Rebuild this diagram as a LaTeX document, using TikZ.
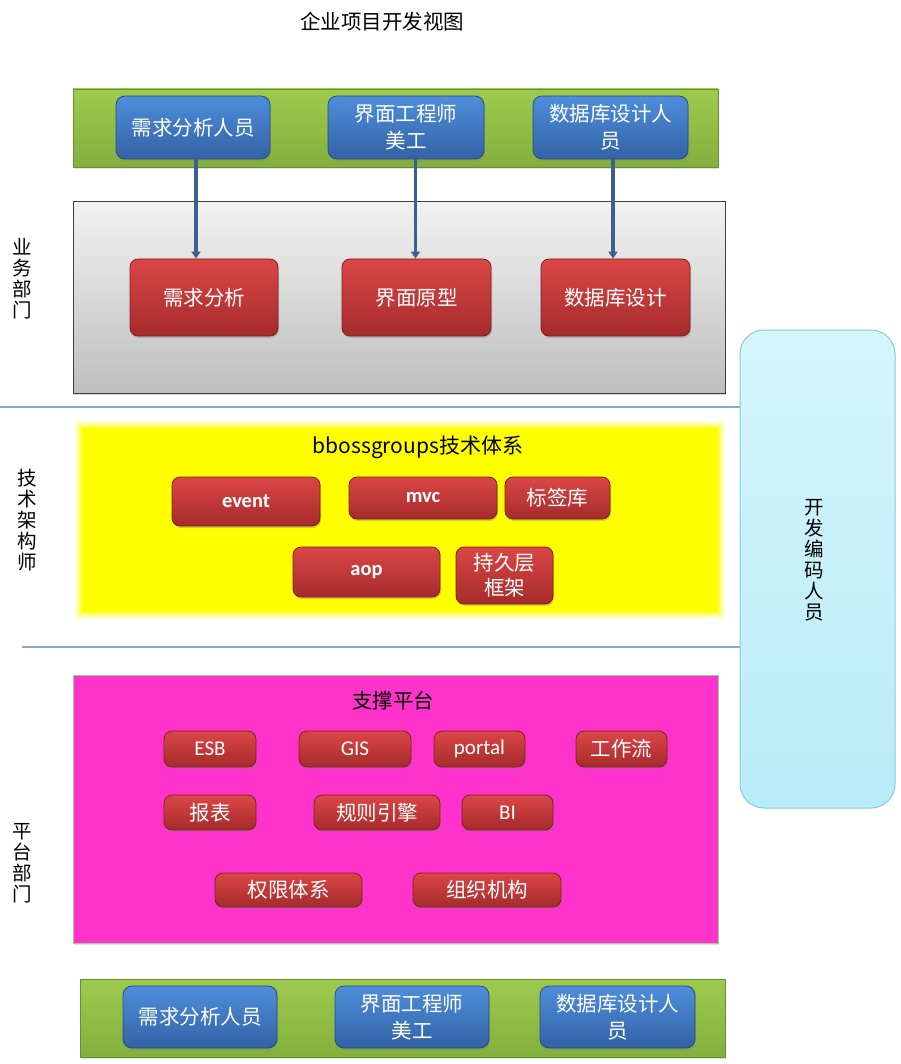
\documentclass[tikz,border=0pt]{standalone}
\usepackage{fontspec}
\setmainfont{Noto Sans CJK SC}
\newfontfamily\lat{Carlito}
\usetikzlibrary{shadows,arrows.meta}
\definecolor{bluetop}{HTML}{4E8EDB}
\definecolor{bluebot}{HTML}{3362A6}
\definecolor{bluedraw}{HTML}{2A4C7C}
\definecolor{redtop}{HTML}{DC4646}
\definecolor{redbot}{HTML}{A52B2B}
\definecolor{reddraw}{HTML}{7E2020}
\definecolor{greentop}{HTML}{9DCB4E}
\definecolor{greenbot}{HTML}{83B03D}
\definecolor{graytop}{HTML}{F2F2F2}
\definecolor{graybot}{HTML}{BEBEBE}
\definecolor{magfill}{HTML}{FF33CC}
\definecolor{yel}{RGB}{255,255,0}
\definecolor{devtop}{HTML}{D6F5FC}
\definecolor{devbot}{HTML}{B8ECF9}
\definecolor{devdraw}{HTML}{86CADD}
\definecolor{arrowblue}{HTML}{3D5F90}
\definecolor{sepcol}{HTML}{8FA9C8}
\tikzset{
  cjk/.style={font=\fontsize{20.5}{27}\selectfont},
  bluebox/.style={draw=bluedraw, line width=0.8pt, rounded corners=9pt,
    top color=bluetop, bottom color=bluebot, text=white, align=center,
    inner sep=0pt, cjk,
    drop shadow={shadow xshift=1pt, shadow yshift=-2pt, opacity=0.35}},
  redbox/.style={draw=reddraw, line width=0.8pt, rounded corners=8pt,
    top color=redtop, bottom color=redbot, text=white, align=center,
    inner sep=0pt, cjk,
    drop shadow={shadow xshift=1pt, shadow yshift=-2pt, opacity=0.35}},
  latbold/.style={font=\lat\bfseries\fontsize{20.5}{22}\selectfont},
  latreg/.style={font=\lat\fontsize{21}{22}\selectfont},
  band/.style={inner sep=0pt, top color=greentop, bottom color=greenbot,
    draw=greenbot!80!black, line width=0.4pt,
    drop shadow={shadow xshift=1pt, shadow yshift=-2pt, opacity=0.25}},
  arr/.style={draw=arrowblue, line width=3.5pt,
    -{Triangle[length=7pt,width=9pt]}},
  sepline/.style={draw=sepcol, line width=1.3pt},
  sidelab/.style={align=center, font=\fontsize{19.5}{21}\selectfont, text=black},
}
\begin{document}
\begin{tikzpicture}[x=1pt,y=-1pt]
\useasboundingbox (0,0) rectangle (900,1064);
\fill[white] (0,0) rectangle (900,1064);

% title
\node[cjk] (title) at (382,22) {企业项目开发视图};

% developer box
\node[draw=devdraw, line width=1pt, rounded corners=24pt, top color=devtop,
  bottom color=devbot, minimum width=155pt, minimum height=478pt, inner sep=0pt]
  (dev) at (817.5,569) {};
\node[sidelab] (devlab) at (814,560) {开\\发\\编\\码\\人\\员};

% separators
\coordinate (s1) at (0,407);
\coordinate (s2) at (22,647);
\draw[sepline] (s1) -- (s1 -| dev.west);
\draw[sepline] (s2) -- (s2 -| dev.west);

% side labels
\node[sidelab] (lab1) at (22,279) {业\\务\\部\\门};
\node[sidelab] (lab2) at (27,520) {技\\术\\架\\构\\师};
\node[sidelab] (lab3) at (22,863) {平\\台\\部\\门};

% top green band
\node[band, minimum width=645pt, minimum height=78pt] (gtop) at (395.5,128) {};
% gray box
\node[draw=black!75, line width=1pt, top color=graytop, bottom color=graybot,
  minimum width=652pt, minimum height=191pt, inner sep=0pt,
  drop shadow={shadow xshift=1pt, shadow yshift=-2pt, opacity=0.3}]
  (gbox) at (399,297.5) {};

\node[bluebox, minimum width=154pt, minimum height=63pt] (b1) at (193,127.5) {需求分析人员};
\node[bluebox, minimum width=156pt, minimum height=63pt] (b2) at (406,127.5) {界面工程师\\美工};
\node[bluebox, minimum width=155pt, minimum height=63pt] (b3) at (610.5,127.5) {数据库设计人\\员};

\node[redbox, minimum width=148pt, minimum height=77pt] (r1) at (204,297.5) {需求分析};
\node[redbox, minimum width=149pt, minimum height=77pt] (r2) at (416.5,297.5) {界面原型};
\node[redbox, minimum width=149pt, minimum height=77pt] (r3) at (615.5,297.5) {数据库设计};

\draw[arr] ([xshift=3pt]b1.south) -- ([xshift=3pt]b1.south |- r1.north);
\draw[arr] ([xshift=9.5pt]b2.south) -- ([xshift=9.5pt]b2.south |- r2.north);
\draw[arr] ([xshift=2.5pt]b3.south) -- ([xshift=2.5pt]b3.south |- r3.north);

% yellow area with soft edge
\fill[yel!10] (74,420) rectangle (726,620);
\fill[yel!25] (76,422) rectangle (724,618);
\fill[yel!45] (78,424) rectangle (722,616);
\fill[yel!70] (80,426) rectangle (720,614);
\node[fill=yel, minimum width=636pt, minimum height=184pt, inner sep=0pt]
  (ybox) at (400,520) {};
\node[font=\fontsize{21}{22}\selectfont] (ytitle) at (418,447) {bbossgroups技术体系};

\node[redbox, latbold, minimum width=148pt, minimum height=49pt] (ev) at (246,501.5) {event};
\node[redbox, latbold, minimum width=148pt, minimum height=42pt] (mvc) at (423,498) {mvc};
\node[redbox, minimum width=105pt, minimum height=42pt] (tag) at (557.5,498) {标签库};
\node[redbox, latbold, minimum width=147pt, minimum height=50pt] (aop) at (366.5,572) {aop};
\node[redbox, minimum width=97pt, minimum height=57pt, font=\fontsize{20.5}{25}\selectfont] (per) at (504.5,575.5) {持久层\\框架};

% magenta platform
\node[fill=magfill, draw=green!40!gray!60, line width=0.6pt, minimum width=645pt,
  minimum height=268pt, inner sep=0pt,
  drop shadow={shadow xshift=1pt, shadow yshift=-2pt, opacity=0.25}]
  (mbox) at (395.5,809) {};
\node[cjk] (mtitle) at (393,701) {支撑平台};

\node[redbox, latreg, minimum width=92pt, minimum height=36pt] (esb) at (210,749) {ESB};
\node[redbox, latreg, minimum width=112pt, minimum height=36pt] (gis) at (355,749) {GIS};
\node[redbox, latreg, minimum width=91pt, minimum height=36pt] (portal) at (479.5,749) {portal};
\node[redbox, minimum width=91pt, minimum height=36pt] (wf) at (621.5,749) {工作流};

\node[redbox, minimum width=92pt, minimum height=35pt] (rep) at (210,812.5) {报表};
\node[redbox, minimum width=126pt, minimum height=35pt] (rule) at (377,812.5) {规则引擎};
\node[redbox, latreg, minimum width=91pt, minimum height=35pt] (bi) at (507.5,812.5) {BI};

\node[redbox, minimum width=147pt, minimum height=34pt] (perm) at (288.5,890) {权限体系};
\node[redbox, minimum width=148pt, minimum height=34pt] (org) at (487,890) {组织机构};

% bottom green band
\node[band, minimum width=645pt, minimum height=78pt] (gbot) at (402.5,1018) {};
\node[bluebox, minimum width=154pt, minimum height=62pt] (bb1) at (200,1017) {需求分析人员};
\node[bluebox, minimum width=154pt, minimum height=62pt] (bb2) at (412,1017) {界面工程师\\美工};
\node[bluebox, minimum width=155pt, minimum height=62pt] (bb3) at (617.5,1017) {数据库设计人\\员};
\end{tikzpicture}
\end{document}
